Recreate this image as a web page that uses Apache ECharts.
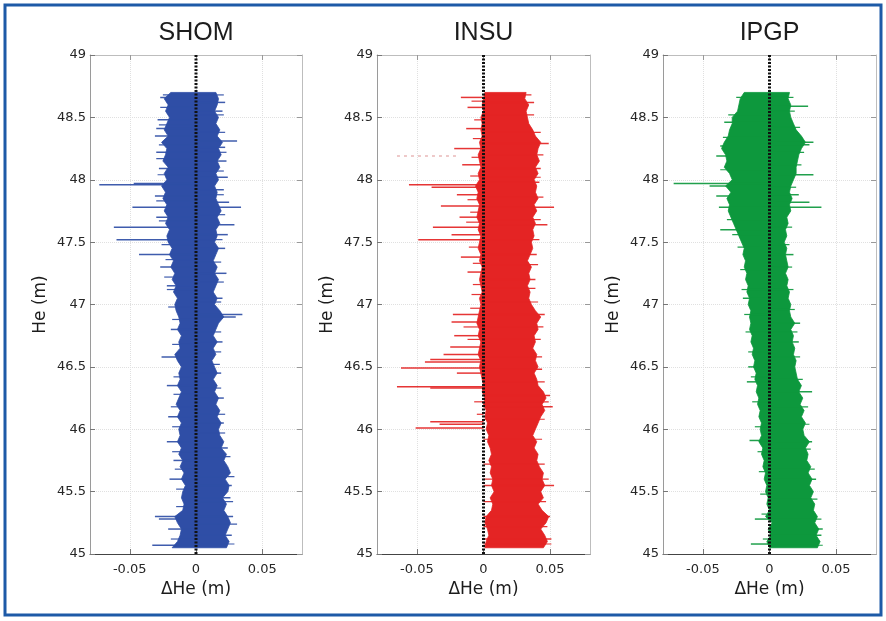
<!DOCTYPE html>
<html><head><meta charset="utf-8">
<script src="https://cdn.jsdelivr.net/npm/echarts@6/dist/echarts.min.js"></script>
<style>html,body{margin:0;padding:0;background:#fff}#c{width:886px;height:621px}</style>
</head><body><div id="c"></div>
<script>
// ---- data ----
const PANEL_TITLES = ['SHOM', 'INSU', 'IPGP'];
const X_TICKS = [-0.05, 0, 0.05];
const X_RANGE = [-0.08, 0.08];
const Y_RANGE = [45, 49];
const Y_STEP = 0.5;
const ZERO_DELTA = 0;

const HE_LEVELS = [45.05,45.1,45.15,45.2,45.25,45.3,45.35,45.4,45.45,45.5,
  45.55,45.6,45.65,45.7,45.75,45.8,45.85,45.9,45.95,46,
  46.05,46.1,46.15,46.2,46.25,46.3,46.35,46.4,46.45,46.5,
  46.55,46.6,46.65,46.7,46.75,46.8,46.85,46.9,46.95,47,
  47.05,47.1,47.15,47.2,47.25,47.3,47.35,47.4,47.45,47.5,
  47.55,47.6,47.65,47.7,47.75,47.8,47.85,47.9,47.95,48,
  48.05,48.1,48.15,48.2,48.25,48.3,48.35,48.4,48.45,48.5,
  48.55,48.6,48.65,48.7];

const SHOM_LO = [-0.018,-0.014,-0.012,-0.011,-0.014,-0.016,-0.010,-0.009,-0.011,-0.010,
  -0.008,-0.011,-0.009,-0.012,-0.010,-0.013,-0.011,-0.014,-0.012,-0.013,
  -0.011,-0.014,-0.012,-0.015,-0.013,-0.011,-0.014,-0.012,-0.013,-0.011,
  -0.014,-0.016,-0.012,-0.013,-0.011,-0.014,-0.012,-0.013,-0.015,-0.016,
  -0.014,-0.017,-0.015,-0.018,-0.016,-0.019,-0.017,-0.020,-0.018,-0.021,
  -0.022,-0.020,-0.023,-0.021,-0.024,-0.022,-0.025,-0.023,-0.026,-0.022,
  -0.024,-0.021,-0.025,-0.023,-0.022,-0.026,-0.021,-0.024,-0.022,-0.020,
  -0.023,-0.021,-0.024,-0.019];
const SHOM_HI = [0.023,0.025,0.022,0.024,0.026,0.024,0.021,0.023,0.020,0.024,
  0.025,0.022,0.026,0.024,0.021,0.023,0.019,0.021,0.018,0.017,
  0.019,0.016,0.018,0.015,0.017,0.014,0.016,0.013,0.016,0.014,
  0.012,0.015,0.013,0.016,0.013,0.015,0.017,0.021,0.018,0.014,
  0.016,0.013,0.015,0.017,0.014,0.016,0.013,0.015,0.017,0.014,
  0.016,0.015,0.018,0.016,0.019,0.017,0.015,0.016,0.014,0.017,
  0.015,0.018,0.016,0.019,0.017,0.020,0.016,0.018,0.015,0.017,
  0.014,0.016,0.017,0.015];
const SHOM_SPIKE_HE = [47.96,47.97,47.78,47.62,47.52,47.40,48.41,48.22,48.09,47.87,
  47.70,47.30,46.58,46.35,46.10,45.90,45.60,45.30,45.28,45.07,
  48.66,48.48,48.35,47.15,46.80,45.75,45.20,
  48.31,48.62,48.55,48.15,48.02,47.82,47.78,47.64,47.45,
  47.25,46.92,46.90,46.70,46.25,45.85,45.55,45.30,45.15,
  48.26,47.92,47.56,47.05,46.45,46.05,45.45];
const SHOM_SPIKE_DX = [-0.073,-0.047,-0.048,-0.062,-0.060,-0.043,-0.030,-0.030,-0.028,-0.031,
  -0.030,-0.027,-0.026,-0.022,-0.021,-0.022,-0.020,-0.031,-0.028,-0.033,
  -0.027,-0.029,-0.031,-0.022,-0.019,-0.017,-0.021,
  0.031,0.022,0.020,0.023,0.024,0.025,0.034,0.029,0.022,
  0.023,0.035,0.030,0.020,0.021,0.024,0.027,0.028,0.027,
  0.022,0.021,0.024,0.020,0.019,0.021,0.026];
const SHOM_HAIR_HE = [45.12,45.38,45.52,45.68,45.82,46.02,46.18,46.28,46.42,46.68,46.88,46.98,
  47.12,47.22,47.36,47.48,47.67,47.83,48.04,48.17,48.28,48.44,48.58,48.68,
  45.08,45.24,45.42,45.62,45.78,45.97,46.12,46.33,46.52,46.62,46.78,47.02,
  47.18,47.34,47.52,47.72,47.88,48.07,48.22,48.38,48.52,48.68];
const SHOM_HAIR_DX = [-0.019,-0.015,-0.015,-0.016,-0.018,-0.018,-0.019,-0.017,-0.017,-0.018,-0.018,-0.021,
  -0.022,-0.024,-0.023,-0.026,-0.028,-0.030,-0.029,-0.030,-0.028,-0.028,-0.027,-0.025,
  0.029,0.031,0.028,0.029,0.026,0.022,0.022,0.019,0.018,0.019,0.019,0.019,
  0.021,0.019,0.020,0.022,0.021,0.021,0.023,0.022,0.021,0.021];

const INSU_LO = [0.001,0.002,0.004,0.003,0.001,0.002,0.006,0.007,0.005,0.008,
  0.006,0.007,0.005,0.006,0.004,0.006,0.005,0.003,0.004,0.002,
  0.003,0.001,0.002,0.000,0.001,-0.001,0.000,-0.001,-0.002,-0.003,
  -0.002,-0.004,-0.003,-0.002,-0.004,-0.003,-0.005,-0.004,-0.003,-0.002,
  -0.003,-0.001,-0.002,-0.003,-0.002,-0.001,-0.003,-0.002,-0.004,-0.003,
  -0.002,-0.004,-0.003,-0.005,-0.004,-0.003,-0.005,-0.004,-0.006,-0.003,
  -0.004,-0.002,-0.003,-0.004,-0.002,-0.003,-0.001,-0.002,-0.001,-0.002,
  0.000,-0.001,0.000,0.001];
const INSU_HI = [0.045,0.048,0.046,0.043,0.047,0.049,0.044,0.041,0.045,0.043,
  0.046,0.044,0.045,0.042,0.040,0.041,0.038,0.040,0.037,0.039,
  0.041,0.043,0.046,0.044,0.047,0.045,0.041,0.040,0.038,0.041,
  0.039,0.040,0.037,0.039,0.038,0.041,0.040,0.043,0.039,0.036,
  0.034,0.035,0.033,0.035,0.034,0.036,0.033,0.035,0.037,0.036,
  0.038,0.037,0.039,0.037,0.040,0.038,0.041,0.039,0.040,0.038,
  0.041,0.039,0.042,0.040,0.041,0.043,0.039,0.037,0.034,0.033,
  0.032,0.034,0.031,0.032];
const INSU_SPIKE_HE = [48.66,48.58,48.41,48.25,48.12,47.96,47.94,47.88,47.79,47.70,
  47.62,47.56,47.52,47.38,47.26,46.92,46.86,46.75,46.66,46.60,
  46.56,46.54,46.49,46.45,46.34,46.33,46.06,46.04,46.01,
  48.62,48.29,48.09,47.98,47.78,47.64,47.40,47.20,46.92,46.48,
  46.27,46.18,45.55,45.30,45.12];
const INSU_SPIKE_DX = [-0.017,-0.012,-0.013,-0.022,-0.016,-0.056,-0.039,-0.020,-0.032,-0.018,
  -0.038,-0.024,-0.049,-0.017,-0.012,-0.023,-0.024,-0.022,-0.025,-0.030,
  -0.040,-0.044,-0.062,-0.020,-0.065,-0.040,-0.040,-0.033,-0.051,
  0.038,0.049,0.043,0.042,0.053,0.048,0.040,0.039,0.046,0.044,
  0.050,0.052,0.053,0.050,0.051];
const INSU_HAIR_HE = [46.12,46.22,46.72,46.82,46.97,47.08,47.16,47.33,47.46,47.66,47.74,47.84,
  48.03,48.18,48.33,48.48,48.63,
  45.08,45.22,45.42,45.60,45.72,45.92,46.08,46.22,46.38,46.58,46.72,46.82,
  47.02,47.13,47.32,47.52,47.68,47.86,48.02,48.20,48.38,48.52,48.68];
const INSU_HAIR_DX = [-0.005,-0.007,-0.012,-0.015,-0.010,-0.009,-0.008,-0.008,-0.011,-0.013,-0.010,-0.012,
  -0.010,-0.009,-0.008,-0.007,-0.009,
  0.051,0.048,0.047,0.049,0.046,0.044,0.046,0.049,0.046,0.044,0.043,0.045,
  0.041,0.039,0.041,0.042,0.043,0.045,0.043,0.045,0.043,0.038,0.036];
const INSU_FAINT_HE = [48.19];
const INSU_FAINT_FROM = [-0.065];
const INSU_FAINT_TO = [-0.019];

const IPGP_LO = [0.000,-0.002,0.001,-0.001,0.002,-0.003,0.000,-0.002,-0.001,-0.003,
  -0.002,-0.004,-0.003,-0.005,-0.004,-0.006,-0.005,-0.008,-0.006,-0.007,
  -0.006,-0.008,-0.007,-0.009,-0.008,-0.010,-0.009,-0.011,-0.010,-0.012,
  -0.011,-0.013,-0.012,-0.014,-0.013,-0.015,-0.014,-0.015,-0.014,-0.016,
  -0.015,-0.017,-0.016,-0.018,-0.017,-0.019,-0.018,-0.020,-0.019,-0.021,
  -0.023,-0.025,-0.027,-0.029,-0.031,-0.030,-0.032,-0.029,-0.033,-0.028,
  -0.030,-0.034,-0.032,-0.033,-0.036,-0.034,-0.031,-0.030,-0.028,-0.028,
  -0.024,-0.023,-0.022,-0.019];
const IPGP_HI = [0.036,0.038,0.035,0.037,0.034,0.036,0.033,0.034,0.031,0.033,
  0.030,0.032,0.029,0.031,0.028,0.029,0.027,0.030,0.026,0.025,
  0.027,0.024,0.026,0.023,0.025,0.022,0.024,0.021,0.020,0.019,
  0.020,0.018,0.019,0.017,0.018,0.016,0.019,0.016,0.015,0.016,
  0.014,0.015,0.013,0.014,0.012,0.014,0.013,0.012,0.013,0.011,
  0.013,0.012,0.014,0.013,0.016,0.015,0.017,0.015,0.016,0.018,
  0.020,0.020,0.021,0.022,0.024,0.027,0.024,0.020,0.018,0.016,
  0.015,0.016,0.014,0.015];
const IPGP_SPIKE_HE = [48.46,48.27,48.19,47.97,47.95,47.87,47.78,47.60,47.05,46.50,
  46.38,45.91,45.28,45.08,
  48.59,48.30,48.28,48.04,47.88,47.82,47.78,47.40,46.85,46.70,
  46.30,45.90,45.60,45.20,45.15];
const IPGP_SPIKE_DX = [-0.034,-0.037,-0.040,-0.072,-0.045,-0.040,-0.038,-0.037,-0.020,-0.016,
  -0.017,-0.015,-0.011,-0.014,
  0.029,0.033,0.030,0.033,0.022,0.030,0.039,0.018,0.023,0.022,
  0.032,0.032,0.035,0.040,0.039];
const IPGP_HAIR_HE = [45.12,45.32,45.48,45.66,45.82,46.02,46.22,46.42,46.62,46.78,46.92,
  47.12,47.28,47.46,47.56,47.68,48.08,48.34,48.52,48.66,
  45.07,45.28,45.44,45.68,45.84,46.04,46.18,46.40,46.58,46.78,46.96,
  47.12,47.30,47.48,47.62,47.94,48.12,48.22,48.42,48.55,48.66];
const IPGP_HAIR_DX = [-0.005,-0.006,-0.007,-0.008,-0.009,-0.011,-0.013,-0.014,-0.016,-0.018,-0.019,
  -0.021,-0.022,-0.024,-0.028,-0.032,-0.037,-0.035,-0.031,-0.025,
  0.040,0.039,0.036,0.034,0.031,0.030,0.029,0.025,0.023,0.021,0.019,
  0.018,0.017,0.015,0.017,0.020,0.024,0.026,0.023,0.019,0.018];

// ---- layout / style ----
const FONT = 'DejaVu Sans';
const panels = [
  {color:'#2f4ea6', lo:SHOM_LO, hi:SHOM_HI, sh:SHOM_SPIKE_HE, sd:SHOM_SPIKE_DX, hh:SHOM_HAIR_HE, hd:SHOM_HAIR_DX, grid:{left:90, top:55, width:212, height:499}},
  {color:'#e42424', lo:INSU_LO, hi:INSU_HI, sh:INSU_SPIKE_HE, sd:INSU_SPIKE_DX, hh:INSU_HAIR_HE, hd:INSU_HAIR_DX, grid:{left:377, top:55, width:213, height:499}},
  {color:'#0d983d', lo:IPGP_LO, hi:IPGP_HI, sh:IPGP_SPIKE_HE, sd:IPGP_SPIKE_DX, hh:IPGP_HAIR_HE, hd:IPGP_HAIR_DX, grid:{left:663, top:55, width:213, height:499}}
];

const grids = [], xAxes = [], yAxes = [], series = [], titles = [];
panels.forEach((p, i) => {
  grids.push(Object.assign({containLabel:false}, p.grid));
  titles.push({
    text: PANEL_TITLES[i], left: p.grid.left + p.grid.width / 2, top: 21, textAlign: 'center', padding: 0,
    textStyle: {fontFamily:'Liberation Sans', fontSize:25, fontWeight:'normal', color:'#1c1c1c'}
  });
  xAxes.push({
    type:'value', gridIndex:i, min:X_RANGE[0], max:X_RANGE[1], position:'bottom',
    axisLine:{show:true, onZero:false, lineStyle:{color:'#444', width:1}},
    axisTick:{show:true, inside:true, length:5, customValues:X_TICKS, lineStyle:{color:'#777'}},
    axisLabel:{customValues:X_TICKS, margin:9, fontFamily:FONT, fontSize:13, color:'#262626'},
    splitLine:{show:true, lineStyle:{color:'#e0e0e0', type:'dotted', width:1}},
    name:'ΔHe (m)', nameLocation:'middle', nameGap:27,
    nameTextStyle:{fontFamily:FONT, fontSize:17, color:'#1c1c1c'}
  });
  yAxes.push({
    type:'value', gridIndex:i, min:Y_RANGE[0], max:Y_RANGE[1], interval:Y_STEP, position:'left',
    axisLine:{show:true, onZero:false, lineStyle:{color:'#9a9a9a', width:1}},
    axisTick:{show:true, inside:true, length:5, lineStyle:{color:'#777'}},
    axisLabel:{margin:4, fontFamily:FONT, fontSize:13, color:'#262626'},
    splitLine:{show:true, lineStyle:{color:'#e0e0e0', type:'dotted', width:1}},
    name:'He (m)', nameLocation:'middle', nameGap:41,
    nameTextStyle:{fontFamily:FONT, fontSize:17, color:'#1c1c1c'}
  });
});
panels.forEach((p, i) => {
  xAxes.push({
    type:'value', gridIndex:i, min:X_RANGE[0], max:X_RANGE[1], position:'top',
    axisLine:{show:true, onZero:false, lineStyle:{color:'#bdbdbd', width:1}},
    axisTick:{show:true, inside:true, length:5, customValues:X_TICKS, lineStyle:{color:'#999'}},
    axisLabel:{show:false}, splitLine:{show:false}
  });
  yAxes.push({
    type:'value', gridIndex:i, min:Y_RANGE[0], max:Y_RANGE[1], interval:Y_STEP, position:'right',
    axisLine:{show:true, onZero:false, lineStyle:{color:'#bdbdbd', width:1}},
    axisTick:{show:true, inside:true, length:5, lineStyle:{color:'#999'}},
    axisLabel:{show:false}, splitLine:{show:false}
  });
});

function spikeSeries(i, he, dx, color, width, z) {
  return {
    type:'custom', xAxisIndex:i, yAxisIndex:i, clip:true, z:z, silent:true,
    data: he.map((h, k) => [dx[k], h]),
    encode:{x:0, y:1},
    renderItem:(params, api) => {
      const a = api.coord([ZERO_DELTA, api.value(1)]);
      const b = api.coord([api.value(0), api.value(1)]);
      return {type:'line', shape:{x1:a[0], y1:a[1], x2:b[0], y2:b[1]}, style:{stroke:color, lineWidth:width, opacity:0.92}};
    }
  };
}

panels.forEach((p, i) => {
  // envelope of the dense trace
  series.push({
    type:'custom', xAxisIndex:i, yAxisIndex:i, clip:true, z:2, silent:true,
    data: HE_LEVELS.map((h, k) => [p.lo[k], p.hi[k], h]),
    encode:{x:[0,1], y:2},
    renderItem:(params, api) => {
      if (params.dataIndex !== 0) return null;
      const pts = [];
      for (let k = 0; k < HE_LEVELS.length; k++) pts.push(api.coord([p.lo[k], HE_LEVELS[k]]));
      for (let k = HE_LEVELS.length - 1; k >= 0; k--) pts.push(api.coord([p.hi[k], HE_LEVELS[k]]));
      return {type:'polygon', shape:{points:pts}, style:{fill:p.color, stroke:p.color, lineWidth:0.8}};
    }
  });
  // short edge hairs and long outliers
  series.push(spikeSeries(i, p.hh, p.hd, p.color, 1.2, 3));
  series.push(spikeSeries(i, p.sh, p.sd, p.color, 1.5, 3));
  if (i === 1) {
    series.push({
      type:'custom', xAxisIndex:i, yAxisIndex:i, clip:true, z:3, silent:true,
      data: INSU_FAINT_HE.map((h, k) => [INSU_FAINT_FROM[k], INSU_FAINT_TO[k], h]),
      encode:{x:[0,1], y:2},
      renderItem:(params, api) => {
        const a = api.coord([api.value(0), api.value(2)]);
        const b = api.coord([api.value(1), api.value(2)]);
        return {type:'line', shape:{x1:a[0], y1:a[1], x2:b[0], y2:b[1]}, style:{stroke:'#e9b8b8', lineWidth:1.5, lineDash:[3,4]}};
      }
    });
  }
  // zero reference (dotted black)
  series.push({
    type:'line', xAxisIndex:i, yAxisIndex:i, z:5, silent:true, symbol:'none',
    data:[[ZERO_DELTA, Y_RANGE[0]], [ZERO_DELTA, Y_RANGE[1]]],
    lineStyle:{color:'#111', width:3, type:[2,1.5]}
  });
});

const chart = echarts.init(document.getElementById('c'));
chart.setOption({
  backgroundColor:'#ffffff',
  animation:false,
  title: titles,
  grid: grids,
  xAxis: xAxes,
  yAxis: yAxes,
  series: series,
  graphic:[{type:'rect', shape:{x:5, y:5, width:876, height:610}, style:{fill:null, stroke:'#1d5aa7', lineWidth:3}, z:10}]
});
</script></body></html>
